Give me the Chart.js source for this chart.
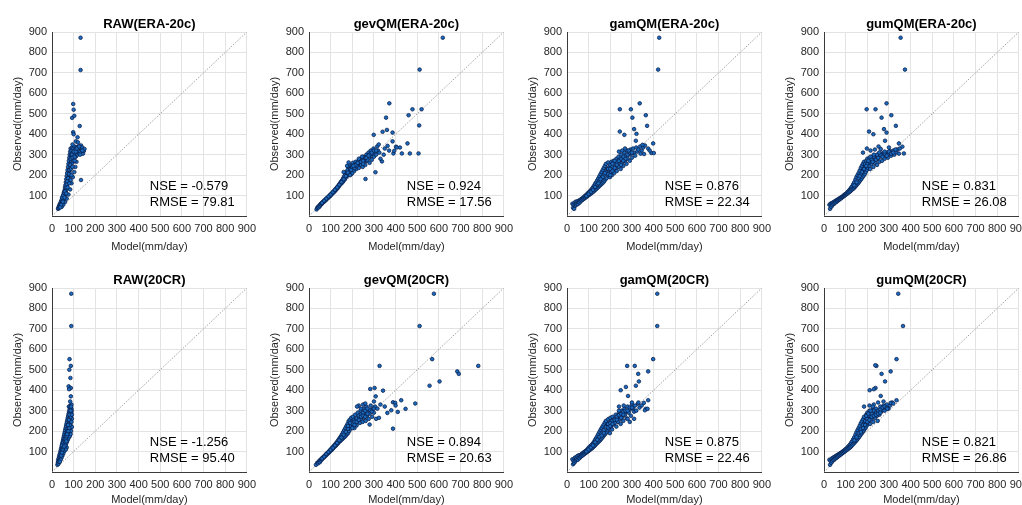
<!DOCTYPE html>
<html>
<head>
<meta charset="utf-8">
<script src="https://cdn.jsdelivr.net/npm/chart.js@4.4.1/dist/chart.umd.min.js"></script>
<style>
html, body { margin: 0; padding: 0; background: #fff; width: 1022px; height: 505px; overflow: hidden; }
.panel { position: absolute; }
</style>
</head>
<body>
<script>
// --- Data (model, observed) in mm/day ---
const titles = ['RAW(ERA-20c)', 'gevQM(ERA-20c)', 'gamQM(ERA-20c)', 'gumQM(ERA-20c)',
                'RAW(20CR)', 'gevQM(20CR)', 'gamQM(20CR)', 'gumQM(20CR)'];
const nseValues = ['-0.579', '0.924', '0.876', '0.831', '-1.256', '0.894', '0.875', '0.821'];
const rmseValues = ['79.81', '17.56', '22.34', '26.08', '95.40', '20.63', '22.46', '26.86'];
const axisTicks = [0, 100, 200, 300, 400, 500, 600, 700, 800, 900];
const oneToOne = [[0, 0], [900, 900]];

const rawEra = [[28,35],[30,42],[32,38],[33,50],[35,45],[36,58],[38,52],[40,65],[40,48],[42,72],[43,58],[45,80],[46,62],[48,88],[48,70],[50,95],[51,75],[53,105],[54,82],[55,115],[56,92],[58,125],[58,100],[60,138],[61,108],[62,150],[63,115],[64,165],[65,125],[66,180],[67,135],[68,195],[69,145],[70,210],[71,155],[72,225],[73,168],[74,240],[75,178],[76,255],[77,190],[78,270],[79,200],[80,285],[81,212],[82,300],[83,225],[84,315],[85,240],[86,330],[87,255],[88,270],[89,300],[90,320],[92,285],[93,335],[95,260],[96,310],[98,330],[100,295],[102,318],[104,340],[106,305],[108,325],[110,290],[112,335],[115,315],[118,300],[120,340],[123,320],[126,305],[128,335],[131,315],[134,345],[137,322],[140,335],[143,305],[147,318],[150,328],[113,265],[108,240],[103,215],[96,190],[90,160],[84,130],[76,105],[68,85],[60,68],[52,55],[45,45],
  [47,90],[52,100],[57,112],[60,120],[64,140],[68,155],[70,170],[74,185],[78,205],[80,225],[84,250],[88,230],[86,280],[92,300],[95,285],[100,315],[105,290],[110,315],[115,330],[125,340],[130,300],[140,320],[90,200],[94,240],[99,270],[105,270],[86,175],[80,160],[72,140],[66,110],[58,90],[50,70],[42,55],[38,42],
  [132,872],[132,714],[98,548],[100,520],[93,480],[103,490],[98,410],[100,400],[128,440],[118,385],[134,176],[110,365],[95,350],[120,360]];

const gevEra = [[35,32],[38,40],[42,45],[45,42],[48,52],[50,48],[53,58],[55,55],[58,62],[60,60],[63,68],[65,66],[68,72],[70,70],[73,78],[75,75],[78,82],[80,80],[83,88],[85,86],[88,92],[90,90],[93,98],[95,95],[98,104],[100,100],[103,108],[105,106],[108,114],[110,112],[113,120],[115,116],[118,125],[120,122],[123,132],[125,128],[128,138],[130,134],[133,145],[135,140],[138,152],[140,148],[143,160],[145,155],[148,168],[150,160],[153,175],[155,165],[158,185],[160,172],[163,195],[165,180],[168,205],[170,188],[173,215],[175,195],[178,225],[180,200],[183,240],[185,210],[188,250],[190,218],[193,230],[195,205],[198,245],[200,225],[203,260],[205,235],[208,220],[210,250],[213,240],[215,265],[218,230],[220,255],[225,245],[228,270],[230,235],[235,260],[238,280],[240,250],[245,270],[248,240],[250,290],[255,265],[258,280],[260,250],[265,300],[268,270],[270,290],[275,310],[278,285],[280,260],[285,320],[288,295],[290,275],[295,305],[298,330],[300,290],[305,315],[310,300],[315,340],[318,320],[322,350],[325,310],[183,262],[160,215],[176,245],
  [60,64],[70,75],[80,85],[90,95],[100,105],[110,116],[120,128],[130,140],[140,153],[150,166],[160,180],[170,195],[180,212],[190,230],[200,240],[210,235],[220,245],[230,260],[240,265],[250,270],[260,285],[270,275],[280,300],[290,310],[300,320],[310,320],[200,210],[190,200],[230,280],[250,255],[265,285],[275,295],[215,250],[225,260],[245,290],[195,225],[205,245],
  [618,872],[511,716],[371,551],[478,522],[520,522],[460,493],[356,481],[509,443],[360,421],[299,397],[340,412],[386,408],[386,365],[455,355],[506,306],[466,306],[429,306],[390,306],[402,339],[363,343],[307,214],[261,181],[337,267],[394,319],[345,300],[330,280],[420,335],[405,335],[350,330],[370,320]];

const gamEra = [[25,60],[28,40],[30,55],[33,35],[35,65],[38,50],[40,70],[42,55],[45,62],[48,72],[50,58],[53,68],[55,75],[58,65],[60,78],[63,72],[65,82],[68,76],[70,86],[73,80],[75,90],[78,84],[80,95],[83,88],[85,100],[88,92],[90,104],[93,96],[95,110],[98,100],[100,115],[103,104],[105,120],[108,108],[110,126],[113,112],[115,132],[118,116],[120,140],[123,120],[125,148],[128,125],[130,158],[133,130],[135,165],[138,135],[140,175],[143,140],[145,185],[148,145],[150,195],[153,150],[155,205],[158,155],[160,215],[163,160],[165,225],[168,165],[170,235],[173,172],[175,245],[178,180],[180,255],[183,185],[185,230],[188,200],[190,262],[193,210],[195,240],[198,190],[200,250],[203,215],[205,265],[208,200],[210,240],[213,225],[215,270],[218,210],[220,255],[225,235],[228,280],[230,220],[235,260],[238,290],[240,240],[245,275],[248,230],[250,300],[255,260],[258,285],[260,245],[265,310],[268,270],[270,295],[275,255],[278,320],[280,280],[285,300],[290,270],[293,325],[298,305],[300,285],[305,330],[310,310],[315,295],[320,335],[325,315],[330,325],[338,340],[345,320],[352,335],[360,345],[268,330],[240,315],[255,320],
  [90,98],[100,108],[110,118],[120,128],[130,142],[140,155],[150,170],[160,185],[170,200],[180,215],[190,230],[200,230],[210,255],[220,235],[230,265],[240,270],[250,280],[260,290],[270,280],[280,300],[290,310],[300,310],[190,205],[200,200],[210,220],[220,270],[230,250],[250,250],[260,270],[285,320],[175,210],[165,190],[155,180],[145,160],
  [426,872],[421,716],[336,551],[244,522],[295,522],[302,481],[364,493],[370,441],[244,413],[265,397],[310,425],[321,402],[398,355],[349,348],[356,303],[390,308],[401,308],[318,368],[375,330],[340,305],[382,320]];

const gumEra = [[25,55],[28,35],[30,60],[33,45],[35,62],[38,52],[40,65],[43,58],[45,68],[48,62],[50,72],[53,66],[55,75],[58,70],[60,78],[63,74],[65,82],[68,78],[70,85],[73,82],[75,88],[78,86],[80,92],[83,90],[85,95],[88,94],[90,100],[93,98],[95,104],[98,102],[100,108],[103,106],[105,112],[108,110],[110,118],[113,114],[115,124],[118,118],[120,130],[123,122],[125,138],[128,128],[130,145],[133,132],[135,155],[138,136],[140,165],[143,142],[145,178],[148,148],[150,190],[153,155],[155,200],[158,160],[160,210],[163,168],[165,222],[168,175],[170,235],[173,182],[175,245],[178,190],[180,255],[183,198],[185,265],[188,205],[190,240],[193,215],[195,270],[198,225],[200,280],[203,235],[205,260],[208,245],[210,285],[213,230],[215,270],[220,255],[225,290],[228,240],[232,275],[236,260],[240,295],[245,250],[248,280],[252,300],[256,265],[260,290],[265,305],[268,270],[272,295],[276,310],[280,280],[285,300],[290,310],[295,285],[300,305],[305,318],[310,295],[315,310],[320,320],[325,300],[332,312],[340,325],[346,305],[350,330],[198,330],[215,320],[180,310],[235,325],[262,328],
  [140,150],[150,165],[160,185],[170,205],[180,225],[190,255],[200,255],[210,265],[220,275],[230,290],[240,275],[250,285],[260,300],[270,290],[280,305],[290,295],[300,315],[310,305],[320,310],[185,230],[195,245],[205,270],[215,290],[225,265],[245,300],[255,310],[165,195],[175,215],[330,325],[280,315],[230,300],
  [354,872],[374,716],[197,522],[238,522],[289,551],[266,481],[311,493],[332,441],[208,413],[228,400],[277,425],[289,408],[282,368],[346,355],[362,339],[369,306],[300,335],[252,340]];

const raw20 = [[25,35],[27,45],[28,55],[30,40],[30,65],[32,50],[33,75],[35,60],[35,85],[37,70],[38,95],[40,80],[40,105],[42,90],[42,115],[44,100],[45,125],[46,110],[47,135],[48,95],[49,145],[50,120],[51,155],[52,105],[53,165],[54,130],[55,175],[56,115],[57,185],[58,140],[59,195],[60,125],[61,205],[62,150],[63,215],[64,135],[65,225],[66,160],[67,235],[68,145],[69,245],[70,170],[71,255],[72,155],[73,265],[74,180],[75,275],[76,165],[77,285],[78,190],[79,295],[80,200],[81,305],[82,175],[83,315],[84,210],[85,325],[86,230],[87,250],[88,270],[89,290],[90,310],[88,200],[86,185],[92,220],[80,240],[76,225],[72,210],[82,265],[78,320],[84,290],[70,200],[66,185],[62,170],[58,160],[54,150],[50,140],[46,130],[60,110],[56,100],[52,90],[48,80],[44,70],[40,60],[36,50],[68,120],[64,110],[92,260],[91,300],[90,330],
  [42,80],[46,95],[50,110],[54,120],[58,135],[60,150],[64,160],[68,175],[72,190],[76,200],[80,215],[82,230],[84,250],[86,270],[88,285],[86,300],[84,320],[88,320],[80,280],[78,255],[74,230],[90,245],[92,280],[70,185],[66,150],[62,130],[56,125],
  [89,872],[89,714],[81,552],[87,519],[80,500],[77,419],[87,411],[87,370],[84,345],[79,405],[85,460]];

const gev20 = [[32,35],[38,45],[42,42],[45,50],[48,55],[50,48],[53,60],[55,56],[58,65],[60,62],[63,70],[65,68],[68,75],[70,72],[73,80],[75,78],[78,86],[80,82],[83,92],[85,88],[88,96],[90,93],[93,102],[95,98],[98,108],[100,104],[103,114],[105,108],[108,120],[110,114],[113,126],[115,120],[118,132],[120,125],[123,138],[125,130],[128,145],[130,136],[133,152],[135,142],[138,160],[140,148],[143,168],[145,152],[148,176],[150,158],[153,185],[155,162],[158,195],[160,168],[163,205],[165,172],[168,215],[170,178],[173,225],[175,185],[178,235],[180,190],[183,248],[185,200],[188,255],[190,210],[193,232],[195,265],[198,220],[200,245],[203,270],[205,230],[208,255],[210,215],[213,280],[215,240],[218,260],[220,228],[225,290],[228,250],[232,270],[235,240],[238,300],[240,260],[245,280],[248,245],[250,310],[255,265],[258,290],[262,250],[265,320],[268,275],[272,300],[276,260],[280,285],[285,325],[288,300],[292,270],[296,310],[300,290],[305,320],[230,325],[222,320],[250,330],[260,335],[310,260],[280,232],
  [60,66],[70,75],[80,88],[90,98],[100,108],[110,118],[120,130],[130,142],[140,155],[150,168],[160,182],[170,196],[180,212],[190,225],[200,235],[210,245],[220,262],[230,275],[240,282],[250,290],[260,300],[270,285],[280,305],[290,295],[300,310],[210,230],[220,245],[230,255],[240,270],[250,275],[260,270],[200,215],[190,240],[180,225],[240,310],[270,310],
  [577,872],[511,714],[569,552],[326,519],[782,519],[685,492],[692,480],[557,422],[603,443],[303,411],[283,406],[342,398],[308,370],[426,351],[388,341],[398,338],[491,335],[446,309],[380,302],[388,212],[323,265],[362,289],[410,294],[330,330],[350,320],[400,325],[300,345],[316,310]];

const gam20 = [[25,62],[28,38],[30,55],[33,45],[35,68],[38,52],[40,72],[42,58],[45,65],[48,78],[50,60],[53,70],[55,82],[58,68],[60,80],[63,74],[65,86],[68,78],[70,90],[73,82],[75,94],[78,86],[80,98],[83,90],[85,102],[88,94],[90,106],[93,98],[95,112],[98,102],[100,118],[103,106],[105,124],[108,110],[110,128],[113,114],[115,134],[118,118],[120,140],[123,124],[125,148],[128,128],[130,158],[133,134],[135,166],[138,140],[140,176],[143,145],[145,186],[148,150],[150,196],[153,155],[155,206],[158,162],[160,215],[163,168],[165,224],[168,175],[170,232],[173,182],[175,242],[178,188],[180,250],[183,195],[185,228],[188,205],[190,258],[193,212],[195,240],[198,190],[200,265],[203,222],[205,248],[208,208],[210,270],[213,232],[215,255],[220,240],[225,280],[228,222],[232,265],[236,245],[240,290],[245,258],[248,235],[252,300],[256,270],[260,250],[265,310],[268,280],[272,295],[276,262],[280,320],[285,290],[290,305],[295,275],[300,330],[305,310],[310,295],[315,325],[320,300],[328,335],[335,315],[280,260],[240,320],[262,325],
  [90,100],[100,110],[110,120],[120,130],[130,145],[140,158],[150,172],[160,188],[170,205],[180,220],[190,235],[200,240],[210,252],[220,260],[230,270],[240,278],[250,285],[260,295],[270,300],[280,300],[290,315],[300,315],[190,218],[200,225],[210,235],[220,255],[230,255],[250,265],[260,280],[170,190],[160,178],[240,300],
  [417,872],[417,714],[398,552],[278,519],[313,519],[329,480],[375,492],[332,443],[272,416],[248,400],[318,422],[282,372],[375,351],[355,338],[364,309],[360,302],[372,309],[330,340],[345,325],[300,340],[290,245],[310,260]];

const gum20 = [[25,60],[28,35],[30,55],[33,45],[35,65],[38,52],[40,68],[43,58],[45,72],[48,62],[50,75],[53,66],[55,78],[58,70],[60,82],[63,74],[65,85],[68,78],[70,88],[73,82],[75,92],[78,86],[80,95],[83,90],[85,99],[88,94],[90,103],[93,98],[95,107],[98,102],[100,112],[103,106],[105,116],[108,110],[110,122],[113,114],[115,128],[118,118],[120,134],[123,122],[125,142],[128,128],[130,150],[133,134],[135,160],[138,140],[140,170],[143,146],[145,182],[148,152],[150,194],[153,158],[155,205],[158,165],[160,215],[163,172],[165,226],[168,180],[170,238],[173,188],[175,248],[178,195],[180,258],[183,202],[185,270],[188,210],[190,245],[193,218],[195,280],[198,228],[200,290],[203,238],[205,265],[208,250],[210,300],[213,235],[215,275],[220,260],[225,305],[228,245],[232,285],[236,265],[240,310],[245,275],[248,250],[252,300],[256,280],[260,320],[265,295],[270,305],[275,325],[280,300],[285,315],[290,330],[298,310],[305,325],[315,340],[185,320],[210,325],[230,330],
  [140,155],[150,170],[160,190],[170,210],[180,230],[190,250],[200,260],[210,275],[220,285],[230,300],[240,290],[250,300],[260,305],[270,315],[280,320],[290,315],[190,230],[200,245],[210,255],[220,270],[230,275],[240,280],[250,285],[260,290],[180,215],[170,195],[195,275],[205,285],[215,300],[225,320],
  [343,872],[365,714],[335,552],[242,519],[237,522],[308,492],[266,480],[282,443],[211,400],[238,411],[262,372],[335,351],[308,338],[292,309],[320,335],[250,340],[275,345],[230,405]];

const panelData = [rawEra, gevEra, gamEra, gumEra, raw20, gev20, gam20, gum20];

// --- Layout (pixel positions of each plot area) ---
const colLeft = [52, 309, 567, 824];
const rowTop = [32, 288];
const plotW = 196, plotH = 184;
const yAxisW = 48, titleH = 18, padRight = 14;
const xAxisH = [38, 35];

Chart.defaults.font.family = "'Liberation Sans', Arial, Helvetica, sans-serif";
Chart.defaults.color = '#262626';

// panel title centred on the plot box, and NSE / RMSE text placed in data units
const panelText = {
    id: 'panelText',
    afterDatasetsDraw(chart, args, opts) {
        const { ctx, chartArea, scales: { x, y } } = chart;
        ctx.save();
        ctx.font = "bold 13px 'Liberation Sans', Arial, sans-serif";
        ctx.fillStyle = '#000';
        ctx.textAlign = 'center';
        ctx.textBaseline = 'middle';
        ctx.fillText(opts.title, (chartArea.left + chartArea.right) / 2, chartArea.top - 8);

        ctx.font = "13px 'Liberation Sans', Arial, sans-serif";
        ctx.textAlign = 'left';
        ctx.fillText('NSE = ' + opts.nse, x.getPixelForValue(452), y.getPixelForValue(147));
        ctx.fillText('RMSE = ' + opts.rmse, x.getPixelForValue(452), y.getPixelForValue(68));
        ctx.restore();
    }
};

function toXY(arr) {
    return arr.map(p => ({ x: p[0], y: p[1] }));
}

function makePanel(i) {
    const row = i < 4 ? 0 : 1;
    const col = i % 4;

    const div = document.createElement('div');
    div.className = 'panel';
    div.style.left = (colLeft[col] - yAxisW) + 'px';
    div.style.top = (rowTop[row] - titleH) + 'px';
    div.style.width = (yAxisW + plotW + padRight) + 'px';
    div.style.height = (titleH + plotH + xAxisH[row]) + 'px';
    const canvas = document.createElement('canvas');
    div.appendChild(canvas);
    document.body.appendChild(div);

    const axisCommon = {
        type: 'linear',
        min: 0,
        max: 900,
        grid: { color: '#e3e3e3', lineWidth: 1, drawTicks: false },
        border: { display: true, color: '#3a3a3a', width: 1 },
    };

    new Chart(canvas, {
        type: 'scatter',
        data: {
            datasets: [
                {
                    data: toXY(panelData[i]),
                    pointRadius: 1.8,
                    pointBackgroundColor: '#1a6bbf',
                    pointBorderColor: '#0a1f4c',
                    pointBorderWidth: 0.8,
                },
                {
                    type: 'line',
                    data: toXY(oneToOne),
                    borderColor: '#8a8a8a',
                    borderWidth: 0.8,
                    borderDash: [1.5, 1.5],
                    pointRadius: 0,
                    fill: false,
                }
            ]
        },
        options: {
            animation: false,
            responsive: true,
            maintainAspectRatio: false,
            events: [],
            layout: { padding: { left: 0, top: titleH, right: padRight, bottom: 0 } },
            plugins: {
                legend: { display: false },
                tooltip: { enabled: false },
                title: { display: false },
                panelText: { title: titles[i], nse: nseValues[i], rmse: rmseValues[i] }
            },
            scales: {
                x: {
                    ...axisCommon,
                    afterBuildTicks: s => { s.ticks = axisTicks.map(v => ({ value: v })); },
                    afterFit: s => { s.height = xAxisH[row]; },
                    ticks: { autoSkip: false, maxRotation: 0, padding: 6, font: { size: 11 } },
                    title: { display: true, text: 'Model(mm/day)', font: { size: 11 }, padding: { top: 0, bottom: 0.4 } }
                },
                y: {
                    ...axisCommon,
                    afterBuildTicks: s => { s.ticks = axisTicks.map(v => ({ value: v })); },
                    afterFit: s => { s.width = yAxisW; },
                    ticks: { padding: 5, font: { size: 11 }, callback: v => (v === 0 ? '' : v) },
                    title: { display: true, text: 'Observed(mm/day)', font: { size: 11 }, padding: { top: 7.4, bottom: 0 } }
                }
            }
        },
        plugins: [panelText]
    });
}

for (let i = 0; i < 8; i++) makePanel(i);
</script>
</body>
</html>
